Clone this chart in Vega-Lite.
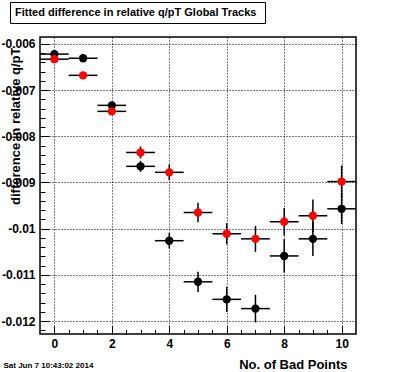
{
  "$schema": "https://vega.github.io/schema/vega-lite/v6.json",
  "width": 316,
  "height": 297,
  "autosize": {"type": "none"},
  "padding": {"left": 40, "top": 37, "right": 40, "bottom": 38},
  "background": "white",
  "config": {
    "font": "Liberation Sans",
    "view": {"stroke": "black", "strokeWidth": 1.5},
    "axis": {
      "domain": false,
      "tickColor": "black",
      "tickWidth": 1,
      "labelColor": "black",
      "titleColor": "black",
      "labelFont": "Liberation Sans",
      "titleFont": "Liberation Sans",
      "gridColor": "black",
      "gridDash": [1, 2],
      "gridWidth": 1,
      "gridOpacity": 1
    }
  },
  "data": {
    "values": [
      {"set": "black", "n": 0, "value": -0.00622, "err": 0.00004, "xerr": 0.5},
      {"set": "black", "n": 1, "value": -0.00631, "err": 0.00004, "xerr": 0.5},
      {"set": "black", "n": 2, "value": -0.00733, "err": 0.00006, "xerr": 0.5},
      {"set": "black", "n": 3, "value": -0.00865, "err": 0.00012, "xerr": 0.5},
      {"set": "black", "n": 4, "value": -0.01026, "err": 0.00017, "xerr": 0.5},
      {"set": "black", "n": 5, "value": -0.01115, "err": 0.00022, "xerr": 0.5},
      {"set": "black", "n": 6, "value": -0.01153, "err": 0.00027, "xerr": 0.5},
      {"set": "black", "n": 7, "value": -0.01173, "err": 0.0003, "xerr": 0.5},
      {"set": "black", "n": 8, "value": -0.01059, "err": 0.00036, "xerr": 0.5},
      {"set": "black", "n": 9, "value": -0.01022, "err": 0.00037, "xerr": 0.5},
      {"set": "black", "n": 10, "value": -0.00957, "err": 0.00033, "xerr": 0.5},
      {"set": "red", "n": 0, "value": -0.00633, "err": 0.00004, "xerr": 0.5},
      {"set": "red", "n": 1, "value": -0.00668, "err": 0.00005, "xerr": 0.5},
      {"set": "red", "n": 2, "value": -0.00746, "err": 0.00006, "xerr": 0.5},
      {"set": "red", "n": 3, "value": -0.00835, "err": 0.00013, "xerr": 0.5},
      {"set": "red", "n": 4, "value": -0.00878, "err": 0.00017, "xerr": 0.5},
      {"set": "red", "n": 5, "value": -0.00965, "err": 0.00021, "xerr": 0.5},
      {"set": "red", "n": 6, "value": -0.01011, "err": 0.00023, "xerr": 0.5},
      {"set": "red", "n": 7, "value": -0.01022, "err": 0.00028, "xerr": 0.5},
      {"set": "red", "n": 8, "value": -0.00985, "err": 0.0003, "xerr": 0.5},
      {"set": "red", "n": 9, "value": -0.00972, "err": 0.00035, "xerr": 0.5},
      {"set": "red", "n": 10, "value": -0.00898, "err": 0.00035, "xerr": 0.5}
    ]
  },
  "layer": [
    {
      "mark": {"type": "errorbar", "rule": {"stroke": "black", "strokeWidth": 1.5}},
      "encoding": {
        "x": {
          "field": "n", "type": "quantitative",
          "scale": {"domain": [-0.5, 10.5], "nice": false, "zero": false},
          "axis": {
            "orient": "bottom",
            "values": [0, 0.5, 1, 1.5, 2, 2.5, 3, 3.5, 4, 4.5, 5, 5.5, 6, 6.5, 7, 7.5, 8, 8.5, 9, 9.5, 10],
            "labels": false, "grid": false, "tickSize": -4.5,
            "title": "Sat Jun  7 10:43:02 2014",
            "titleFontSize": 8, "titleFontWeight": "bold",
            "titleAnchor": "start", "titleAlign": "left", "titleBaseline": "alphabetic",
            "titleX": -37, "titleY": 33
          }
        },
        "xError": {"field": "xerr"},
        "y": {
          "field": "value", "type": "quantitative",
          "scale": {"domain": [-0.01228, -0.00585], "nice": false, "zero": false},
          "axis": {
            "orient": "left",
            "values": [-0.0122, -0.012, -0.0118, -0.0116, -0.0114, -0.0112, -0.011, -0.0108, -0.0106, -0.0104, -0.0102, -0.01, -0.0098, -0.0096, -0.0094, -0.0092, -0.009, -0.0088, -0.0086, -0.0084, -0.0082, -0.008, -0.0078, -0.0076, -0.0074, -0.0072, -0.007, -0.0068, -0.0066, -0.0064, -0.0062, -0.006],
            "labels": false, "grid": false, "tickSize": -5, "title": null
          }
        }
      }
    },
    {
      "mark": {"type": "errorbar", "rule": {"stroke": "black", "strokeWidth": 1.5}},
      "encoding": {
        "x": {"field": "n", "type": "quantitative", "axis": null},
        "y": {"field": "value", "type": "quantitative", "axis": null},
        "yError": {"field": "err"}
      }
    },
    {
      "mark": {"type": "point", "filled": true, "shape": "circle", "size": 70, "opacity": 1},
      "encoding": {
        "x": {
          "field": "n", "type": "quantitative",
          "axis": {
            "orient": "bottom",
            "values": [0, 2, 4, 6, 8, 10],
            "format": "d",
            "grid": true, "tickSize": -8,
            "labelFontSize": 12, "labelFontWeight": "bold", "labelPadding": 12,
            "title": "No. of Bad Points",
            "titleFontSize": 13, "titleFontWeight": "bold",
            "titleAnchor": "end", "titleAlign": "right", "titleBaseline": "alphabetic",
            "titleX": 307, "titleY": 34
          }
        },
        "y": {
          "field": "value", "type": "quantitative",
          "axis": {
            "orient": "left",
            "values": [-0.012, -0.011, -0.01, -0.009, -0.008, -0.007, -0.006],
            "labelExpr": "toString(datum.value)",
            "grid": true, "tickSize": -9,
            "labelFontSize": 12, "labelFontWeight": "bold", "labelPadding": 14,
            "title": "difference in relative q/pT",
            "titleFontSize": 13, "titleFontWeight": "bold",
            "titleAngle": 270, "titleAnchor": "end", "titleAlign": "right", "titleBaseline": "alphabetic",
            "titleX": -21, "titleY": 10
          }
        },
        "color": {
          "field": "set", "type": "nominal",
          "scale": {"domain": ["black", "red"], "range": ["#000000", "#ff0000"]},
          "legend": {
            "values": [],
            "title": "Fitted difference in relative q/pT  Global Tracks",
            "orient": "none", "legendX": -30, "legendY": -35,
            "strokeColor": "black", "fillColor": "white", "padding": 5,
            "titleFontSize": 11, "titleFontWeight": "bold", "titleColor": "black",
            "titlePadding": 0, "titleLimit": 400
          }
        }
      }
    }
  ],
  "resolve": {"axis": {"x": "independent", "y": "independent"}}
}
